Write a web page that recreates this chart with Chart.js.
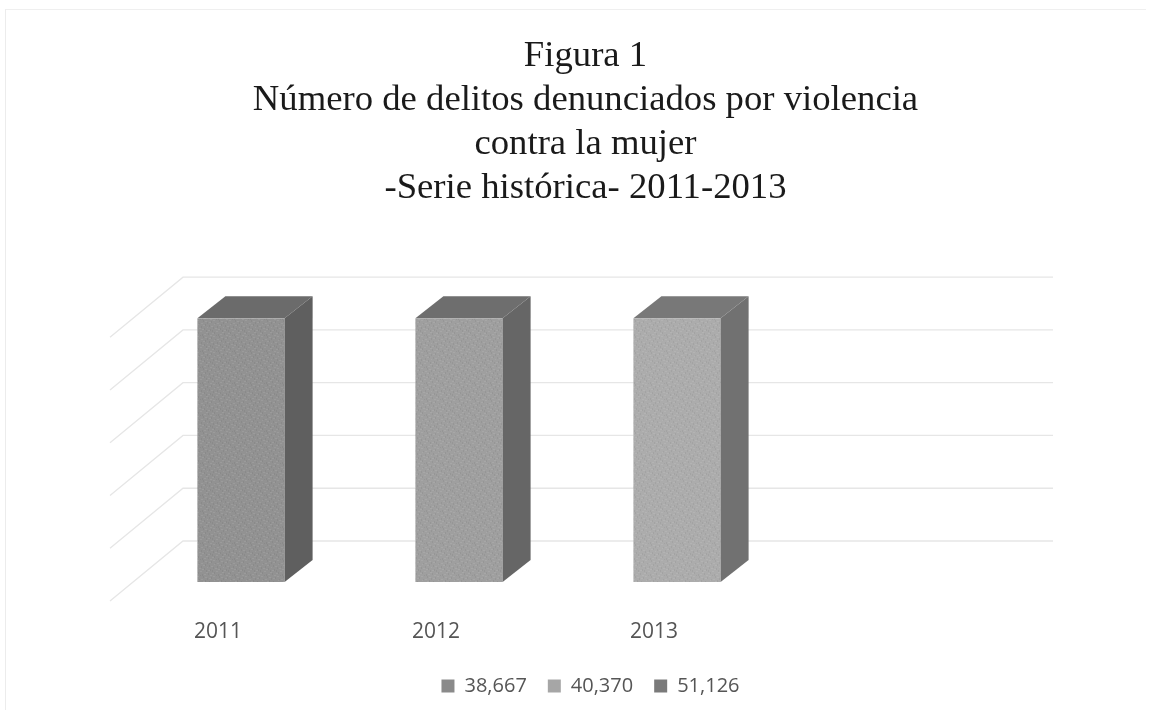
<!DOCTYPE html>
<html>
<head>
<meta charset="utf-8">
<title>Figura 1</title>
<script src="https://cdn.jsdelivr.net/npm/chart.js@4/dist/chart.umd.min.js"></script>
<style>
html, body { margin: 0; padding: 0; background: #fff; }
#box { position: relative; width: 1151px; height: 717px; overflow: hidden; }
#edge { position: absolute; left: 5px; top: 9px; width: 1140px; height: 700px;
	border-left: 1px solid #ececec; border-top: 1px solid #efefef; }
canvas { position: absolute; left: 0; top: 0; }
</style>
</head>
<body>
<div id="box">
	<div id="edge"></div>
	<canvas id="chart" width="1151" height="717"></canvas>
</div>
<script>
var titleLines = [ "Figura 1", "Número de delitos denunciados por violencia", "contra la mujer", "-Serie histórica- 2011-2013" ];
var categories = [ "2011", "2012", "2013", "" ];
var seriesNames = [ "38,667", "40,370", "51,126" ];

// the bars are all drawn at full height in the original (100% columns)
var series2011 = [ 100, null, null, null ];
var series2012 = [ null, 100, null, null ];
var series2013 = [ null, null, 100, null ];

var frontColors = [ "#929292", "#9f9f9f", "#acacac" ];
var sideColors = [ "#5f5f5f", "#666666", "#717171" ];
var topColors = [ "#6b6b6b", "#6e6e6e", "#787878" ];
var swatchColors = [ "#8a8a8a", "#a6a6a6", "#7a7a7a" ];

// fake 3D: bar depth and the offset of the back wall
var barDepthX = 28, barDepthY = 22;
var wallBackX = 51, wallBackY = 41;
var wallFrontX = 22, wallFrontY = 19;
var wallRight = 1053;

// scanned look: small fixed speckle tile over a flat colour
var speckleLight = [ [1,2],[5,0],[9,3],[13,1],[3,6],[7,8],[11,5],[15,7],[0,10],[4,13],[8,11],[12,14],[2,15],[10,9],[14,12],[6,4] ];
var speckleDark = [ [3,1],[7,3],[11,0],[15,2],[1,5],[5,7],[9,6],[13,4],[2,9],[6,12],[10,14],[14,10],[0,13],[4,10],[8,15],[12,8] ];

function speckle(color) {
	var tile = document.createElement("canvas");
	tile.width = 16;
	tile.height = 16;
	var t = tile.getContext("2d");
	t.fillStyle = color;
	t.fillRect(0, 0, 16, 16);
	t.fillStyle = "rgba(255,255,255,0.09)";
	speckleLight.forEach(function(p) { t.fillRect(p[0], p[1], 2, 1); });
	t.fillStyle = "rgba(0,0,0,0.05)";
	speckleDark.forEach(function(p) { t.fillRect(p[0], p[1], 1, 2); });
	return t.createPattern(tile, "repeat");
}

var fake3d = {
	id : "fake3d",
	afterLayout : function(chart) {
		// legend sits a little right of the title centre
		chart.legend.left += 5;
		chart.legend.right += 5;
	},
	beforeDatasetsDraw : function(chart) {
		var ctx = chart.ctx;
		var area = chart.chartArea;
		var yScale = chart.scales.y;
		ctx.save();
		ctx.strokeStyle = "#e6e6e6";
		ctx.lineWidth = 1.3;
		yScale.ticks.forEach(function(tick) {
			var y = yScale.getPixelForValue(tick.value);
			ctx.beginPath();
			ctx.moveTo(area.left - wallFrontX, y + wallFrontY);
			ctx.lineTo(area.left + wallBackX, y - wallBackY);
			ctx.lineTo(wallRight, y - wallBackY);
			ctx.stroke();
		});
		ctx.restore();
	},
	afterDatasetsDraw : function(chart) {
		var ctx = chart.ctx;
		chart.data.datasets.forEach(function(dataset, i) {
			chart.getDatasetMeta(i).data.forEach(function(bar, j) {
				if (dataset.data[j] === null) {
					return;
				}
				var left = bar.x - bar.width / 2;
				var right = bar.x + bar.width / 2;
				ctx.fillStyle = topColors[i];
				ctx.beginPath();
				ctx.moveTo(left, bar.y);
				ctx.lineTo(left + barDepthX, bar.y - barDepthY);
				ctx.lineTo(right + barDepthX, bar.y - barDepthY);
				ctx.lineTo(right, bar.y);
				ctx.closePath();
				ctx.fill();
				ctx.fillStyle = sideColors[i];
				ctx.beginPath();
				ctx.moveTo(right, bar.y);
				ctx.lineTo(right + barDepthX, bar.y - barDepthY);
				ctx.lineTo(right + barDepthX, bar.base - barDepthY);
				ctx.lineTo(right, bar.base);
				ctx.closePath();
				ctx.fill();
			});
		});
	}
};

var ctx = document.getElementById("chart");
var myChart = new Chart(ctx, {
	type : "bar",
	data : {
		labels : categories,
		datasets : [
			{ label : seriesNames[0], data : series2011, backgroundColor : speckle(frontColors[0]) },
			{ label : seriesNames[1], data : series2012, backgroundColor : speckle(frontColors[1]) },
			{ label : seriesNames[2], data : series2013, backgroundColor : speckle(frontColors[2]) }
		]
	},
	options : {
		responsive : false,
		animation : false,
		barPercentage : 0.4,
		categoryPercentage : 1,
		layout : { padding : { left : 20, bottom : 11 } },
		scales : {
			x : {
				stacked : true,
				grid : { display : false },
				border : { display : false },
				ticks : {
					color : "#555555",
					padding : 29,
					labelOffset : -23,
					maxRotation : 0,
					font : { family : "Open Sans", size : 21 }
				},
				afterFit : function(scale) { scale.height = 73; }
			},
			y : {
				stacked : true,
				min : 0,
				max : 100,
				grid : { display : false },
				border : { display : false },
				ticks : { stepSize : 20, display : false },
				afterFit : function(scale) { scale.width = 112; }
			},
			right : {
				position : "right",
				grid : { display : false },
				border : { display : false },
				ticks : { display : false },
				afterFit : function(scale) { scale.width = 147; }
			}
		},
		plugins : {
			title : {
				display : true,
				text : titleLines,
				color : "#1a1a1a",
				font : { family : "Liberation Serif", size : 36.7, weight : "normal", lineHeight : 1.2 },
				padding : { top : 34, bottom : 108 }
			},
			legend : {
				position : "bottom",
				labels : {
					color : "#555555",
					boxWidth : 13,
					boxHeight : 13,
					padding : 21,
					font : { family : "Open Sans", size : 20 },
					generateLabels : function(chart) {
						var items = Chart.defaults.plugins.legend.labels.generateLabels(chart);
						items.forEach(function(item, i) {
							item.fillStyle = swatchColors[i];
							item.lineWidth = 0;
						});
						return items;
					}
				}
			},
			tooltip : { enabled : false }
		}
	},
	plugins : [ fake3d ]
});
</script>
</body>
</html>
